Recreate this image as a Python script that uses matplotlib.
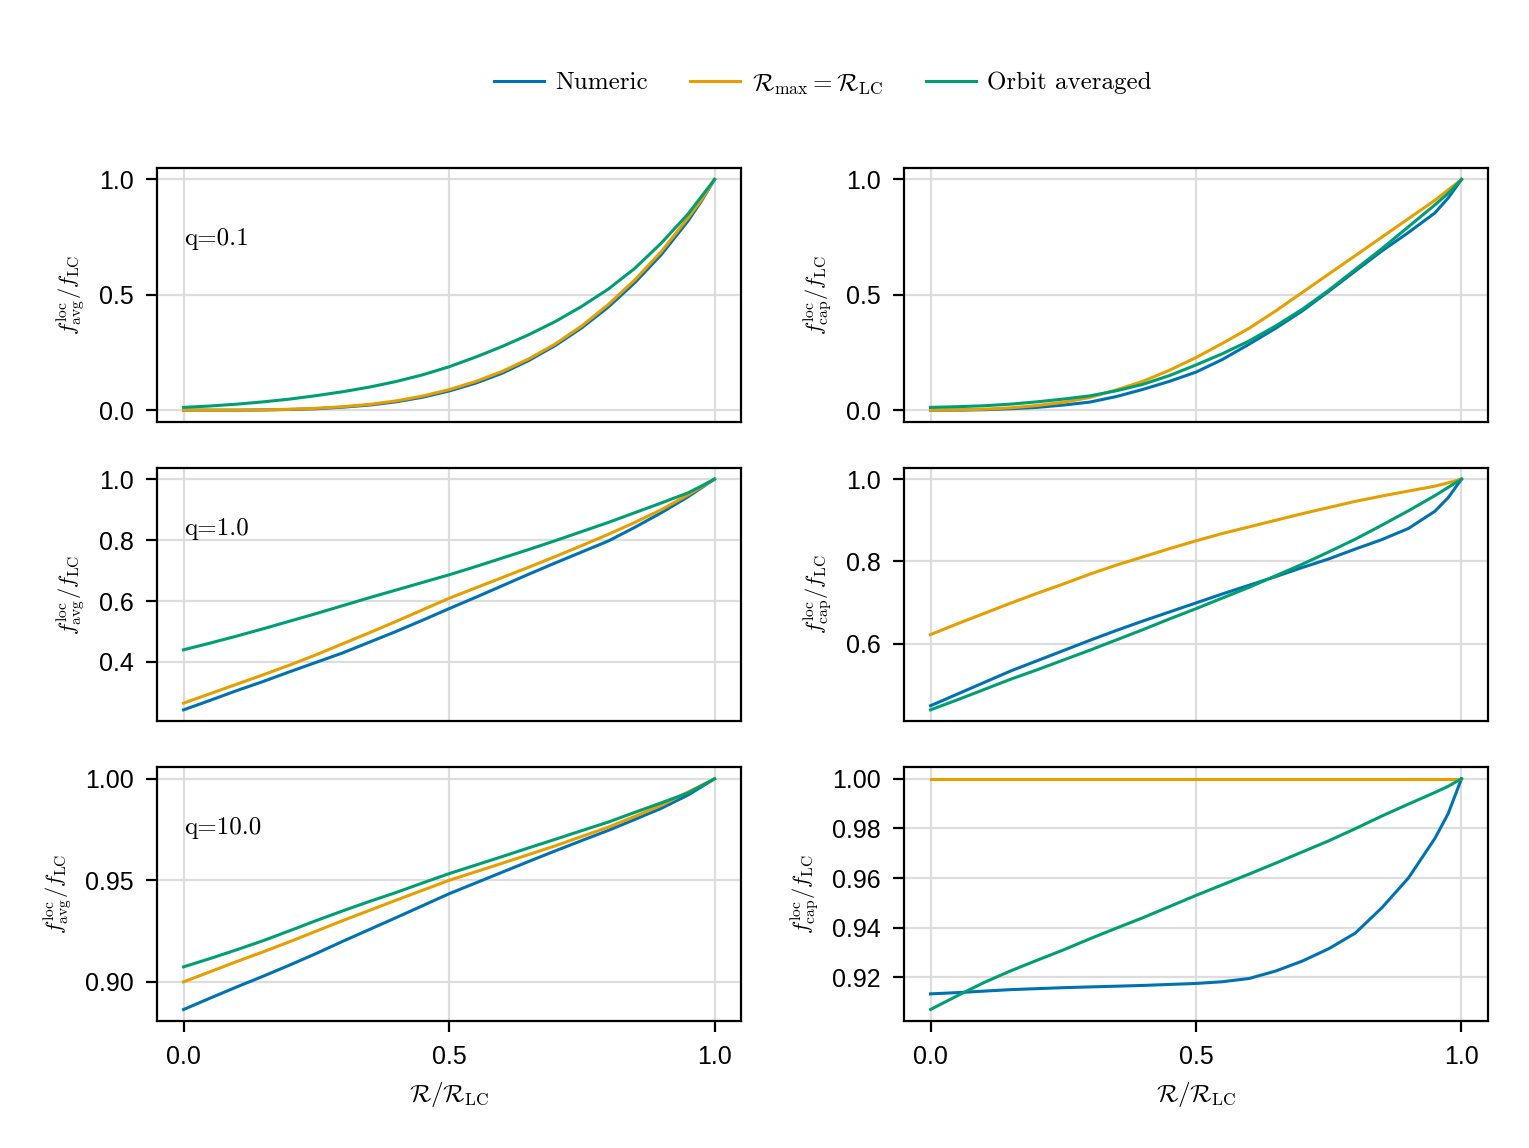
import matplotlib
matplotlib.use("Agg")
import matplotlib.pyplot as plt

plt.rcParams['font.family'] = ['Liberation Sans', 'DejaVu Sans']
plt.rcParams['mathtext.fontset'] = 'cm'

# R / R_LC sample points (shared by every curve)
x = [0.0, 0.05, 0.1, 0.15, 0.2, 0.25, 0.3, 0.35, 0.4, 0.45, 0.5,
     0.55, 0.6, 0.65, 0.7, 0.75, 0.8, 0.85, 0.9, 0.95, 0.975, 1.0]

# q = 0.1
avg01_num = [0.0, 0.0, 0.0, 0.001, 0.003, 0.006, 0.013, 0.022, 0.036, 0.056, 0.083,
             0.117, 0.160, 0.215, 0.280, 0.357, 0.447, 0.553, 0.675, 0.820, 0.905, 1.0]
avg01_lc = [0.0, 0.0, 0.0, 0.001, 0.004, 0.008, 0.015, 0.025, 0.040, 0.061, 0.089,
            0.124, 0.168, 0.222, 0.287, 0.365, 0.458, 0.565, 0.688, 0.833, 0.910, 1.0]
avg01_orb = [0.012, 0.018, 0.026, 0.036, 0.048, 0.063, 0.080, 0.100, 0.124, 0.153, 0.188,
             0.230, 0.276, 0.327, 0.384, 0.450, 0.525, 0.615, 0.725, 0.850, 0.925, 1.0]
cap01_num = [0.0, 0.0, 0.002, 0.006, 0.012, 0.022, 0.035, 0.059, 0.090, 0.125, 0.165,
             0.220, 0.286, 0.355, 0.430, 0.515, 0.603, 0.690, 0.770, 0.855, 0.920, 1.0]
cap01_lc = [0.0, 0.001, 0.004, 0.010, 0.020, 0.034, 0.055, 0.088, 0.125, 0.173, 0.228,
            0.290, 0.355, 0.430, 0.510, 0.590, 0.670, 0.750, 0.830, 0.910, 0.955, 1.0]
cap01_orb = [0.012, 0.015, 0.019, 0.026, 0.036, 0.048, 0.062, 0.084, 0.112, 0.150, 0.196,
             0.245, 0.300, 0.365, 0.437, 0.520, 0.610, 0.700, 0.795, 0.890, 0.940, 1.0]

# q = 1.0
avg1_num = [0.243, 0.274, 0.306, 0.336, 0.368, 0.399, 0.430, 0.465, 0.500, 0.537, 0.575,
            0.612, 0.650, 0.688, 0.725, 0.761, 0.797, 0.842, 0.890, 0.942, 0.971, 1.0]
avg1_lc = [0.265, 0.296, 0.327, 0.358, 0.390, 0.424, 0.460, 0.496, 0.533, 0.571, 0.609,
           0.643, 0.677, 0.711, 0.746, 0.782, 0.819, 0.858, 0.900, 0.948, 0.974, 1.0]
avg1_orb = [0.440, 0.462, 0.485, 0.509, 0.534, 0.559, 0.585, 0.611, 0.636, 0.661, 0.686,
            0.713, 0.741, 0.769, 0.798, 0.828, 0.858, 0.890, 0.922, 0.955, 0.977, 1.0]
cap1_num = [0.449, 0.477, 0.505, 0.533, 0.558, 0.583, 0.608, 0.632, 0.655, 0.677, 0.699,
            0.721, 0.742, 0.763, 0.785, 0.806, 0.830, 0.853, 0.880, 0.922, 0.955, 1.0]
cap1_lc = [0.622, 0.648, 0.673, 0.698, 0.722, 0.745, 0.769, 0.791, 0.811, 0.831, 0.850,
           0.868, 0.884, 0.900, 0.916, 0.931, 0.946, 0.959, 0.971, 0.983, 0.991, 1.0]
cap1_orb = [0.439, 0.463, 0.488, 0.513, 0.536, 0.560, 0.584, 0.609, 0.634, 0.660, 0.685,
            0.711, 0.737, 0.765, 0.793, 0.823, 0.854, 0.888, 0.923, 0.960, 0.980, 1.0]

# q = 10.0
avg10_num = [0.8864, 0.8920, 0.8975, 0.9028, 0.9083, 0.9140, 0.9200, 0.9258, 0.9316, 0.9375, 0.9434,
             0.9487, 0.9540, 0.9593, 0.9645, 0.9696, 0.9746, 0.9800, 0.9855, 0.9920, 0.9960, 1.0]
avg10_lc = [0.9000, 0.9050, 0.9100, 0.9148, 0.9198, 0.9250, 0.9302, 0.9352, 0.9402, 0.9451, 0.9500,
            0.9542, 0.9584, 0.9627, 0.9670, 0.9716, 0.9762, 0.9815, 0.9870, 0.9935, 0.9967, 1.0]
avg10_orb = [0.9074, 0.9115, 0.9158, 0.9203, 0.9252, 0.9302, 0.9350, 0.9396, 0.9440, 0.9487, 0.9533,
             0.9575, 0.9617, 0.9660, 0.9702, 0.9745, 0.9787, 0.9835, 0.9882, 0.9930, 0.9965, 1.0]
cap10_num = [0.9133, 0.9138, 0.9144, 0.9150, 0.9154, 0.9158, 0.9161, 0.9164, 0.9167, 0.9171, 0.9175,
             0.9182, 0.9195, 0.9225, 0.9265, 0.9315, 0.9378, 0.9480, 0.9600, 0.9760, 0.9860, 1.0]
cap10_lc = [1.0] * 22
cap10_orb = [0.9070, 0.9125, 0.9178, 0.9225, 0.9268, 0.9310, 0.9355, 0.9398, 0.9440, 0.9485, 0.9530,
             0.9573, 0.9616, 0.9660, 0.9705, 0.9750, 0.9799, 0.9850, 0.9898, 0.9945, 0.9970, 1.0]

q_labels = ['q=0.1', 'q=1.0', 'q=10.0']
q_ypos = [0.72, 0.76, 0.76]
avg_data = [(avg01_num, avg01_lc, avg01_orb), (avg1_num, avg1_lc, avg1_orb), (avg10_num, avg10_lc, avg10_orb)]
cap_data = [(cap01_num, cap01_lc, cap01_orb), (cap1_num, cap1_lc, cap1_orb), (cap10_num, cap10_lc, cap10_orb)]
avg_ticks = [[0.0, 0.5, 1.0], [0.4, 0.6, 0.8, 1.0], [0.90, 0.95, 1.00]]
cap_ticks = [[0.0, 0.5, 1.0], [0.6, 0.8, 1.0], [0.92, 0.94, 0.96, 0.98, 1.00]]
tick_fmt = ['%.1f', '%.1f', '%.2f']

colors = ['#0072B2', '#E69F00', '#009E73']
labels = ['Numeric', r'$\mathcal{R}_{\rm max}=\mathcal{R}_{\rm LC}$', 'Orbit averaged']

fig, axes = plt.subplots(3, 2, figsize=(1529 / 200, 1148 / 200), dpi=200)
fig.subplots_adjust(left=0.1027, right=0.9732, bottom=0.1106, top=0.8537, wspace=0.279, hspace=0.181)

for row in range(3):
    for col in range(2):
        ax = axes[row, col]
        data = avg_data[row] if col == 0 else cap_data[row]
        lines = []
        for ys, c, lab in zip(data, colors, labels):
            ln, = ax.plot(x, ys, color=c, lw=1.1, label=lab)
            lines.append(ln)
        ax.grid(True, color='#dddddd', lw=0.8)
        ax.set_axisbelow(True)
        ax.set_xticks([0.0, 0.5, 1.0])
        ax.set_xticklabels(['0.0', '0.5', '1.0'])
        ticks = avg_ticks[row] if col == 0 else cap_ticks[row]
        ax.set_yticks(ticks)
        ax.set_yticklabels([tick_fmt[row] % t for t in ticks])
        ax.tick_params(labelsize=9, length=4, width=0.8, pad=4.5)
        if row < 2:
            ax.tick_params(axis='x', bottom=False, labelbottom=False)
        else:
            ax.set_xlabel(r'$\mathcal{R}/\mathcal{R}_{\rm LC}$', fontsize=9)
        if col == 0:
            ax.set_ylabel(r'$f^{\rm loc}_{\rm avg}/f_{\rm LC}$', fontsize=8)
            ax.text(0.046, q_ypos[row], q_labels[row], family='cmr10',
                    transform=ax.transAxes, fontsize=9, va='center', ha='left')
        else:
            ax.set_ylabel(r'$f^{\rm loc}_{\rm cap}/f_{\rm LC}$', fontsize=8)

leg = fig.legend(lines, labels, loc='center', bbox_to_anchor=(0.538, 0.927), ncol=3,
                 frameon=False, columnspacing=1.7, handlelength=2.0,
                 handletextpad=0.45, prop={'family': 'cmr10', 'size': 9})

fig.savefig('out.png', dpi=200)
